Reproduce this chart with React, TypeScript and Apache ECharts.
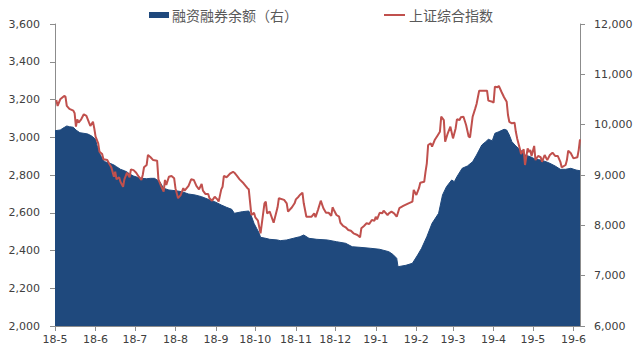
import React, { useEffect, useRef } from "react";
import * as echarts from "echarts";

// Days counted from 2018-05-01
const START_Y = 2018;
const START_M = 4; // May (0-based)
const END_DAY = 401;

const SERIES_MARGIN = "融资融券余额（右）";
const SERIES_INDEX = "上证综合指数";

// 上证综合指数 (left axis)
const indexDays = [
  1, 2, 4, 7, 8, 9, 11, 14, 15, 16, 17, 18, 20, 22, 24, 26, 27, 29, 30, 31,
  33, 34, 36, 37, 40, 41, 43, 45, 46, 47, 49, 50, 52, 53, 55, 57, 58, 60, 62, 64,
  66, 67, 68, 70, 71, 73, 75, 78, 79, 81, 83, 84, 85, 87, 89, 91, 92, 94, 96, 98,
  99, 102, 104, 106, 108, 110, 112, 113, 115, 117, 118, 120, 122, 124, 125, 127, 128, 129, 131, 132,
  134, 136, 137, 139, 141, 144, 147, 148, 150, 152, 153, 155, 157, 160, 161, 162, 164, 167, 170, 171,
  175, 177, 178, 181, 183, 184, 186, 187, 189, 190, 192, 196, 198, 199, 201, 203, 205, 207, 209, 211,
  212, 213, 215, 217, 218, 220, 222, 224, 226, 228, 231, 233, 234, 236, 238, 240, 242, 244, 245, 246,
  248, 250, 251, 254, 255, 257, 259, 261, 263, 266, 270, 273, 274, 276, 278, 279, 282, 283, 284, 285,
  287, 288, 290, 292, 294, 295, 297, 298, 300, 302, 304, 306, 307, 309, 310, 312, 314, 316, 317, 319,
  321, 322, 324, 327, 330, 331, 334, 335, 336, 338, 339, 341, 343, 345, 346, 347, 349, 351, 352, 353,
  355, 356, 358, 359, 361, 362, 363, 364, 366, 367, 369, 371, 372, 374, 376, 378, 380, 382, 384, 386,
  387, 390, 391, 392, 394, 396, 399, 400, 401,
];
const indexValues = [
  3197, 3166, 3201, 3219, 3215, 3166, 3150, 3141, 3127, 3056, 3095, 3077, 3095, 3122, 3113, 3077, 3060, 3082, 3047, 3003,
  2968, 2923, 2911, 2883, 2879, 2865, 2841, 2791, 2817, 2777, 2788, 2764, 2738, 2777, 2812, 2788, 2830, 2826, 2812, 2791,
  2774, 2800, 2841, 2853, 2906, 2894, 2879, 2876, 2777, 2742, 2712, 2774, 2747, 2791, 2795, 2783, 2730, 2677, 2694, 2730,
  2717, 2742, 2777, 2774, 2742, 2724, 2752, 2717, 2699, 2699, 2677, 2664, 2685, 2671, 2659, 2724, 2738, 2795, 2788, 2795,
  2809, 2817, 2812, 2795, 2777, 2756, 2730, 2724, 2588, 2600, 2576, 2558, 2491, 2650, 2659, 2597, 2606, 2547, 2629, 2677,
  2668, 2650, 2606, 2629, 2650, 2671, 2685, 2694, 2706, 2650, 2579, 2579, 2597, 2576, 2618, 2664, 2624, 2600, 2600, 2583,
  2629, 2615, 2588, 2579, 2547, 2530, 2523, 2509, 2505, 2491, 2482, 2470, 2518, 2530, 2544, 2540, 2562, 2558, 2579, 2565,
  2600, 2597, 2611, 2588, 2597, 2606, 2597, 2579, 2624, 2636, 2650, 2659, 2721, 2694, 2730, 2759, 2764, 2817, 2862, 2959,
  2968, 2950, 2985, 3007, 3029, 3109, 3091, 2976, 3021, 3056, 2994, 3047, 3095, 3091, 3106, 3109, 3065, 3003, 3000, 3109,
  3153, 3176, 3247, 3247, 3247, 3194, 3188, 3183, 3268, 3265, 3272, 3241, 3212, 3188, 3118, 3082, 3074, 3077, 3029, 2994,
  2941, 2911, 2936, 2853, 2941, 2923, 2932, 2901, 2954, 2879, 2901, 2894, 2870, 2906, 2879, 2906, 2918, 2901, 2901, 2870,
  2841, 2853, 2879, 2929, 2915, 2888, 2894, 2932, 2989,
];

// 融资融券余额 (right axis)
const marginDays = [
  0, 4, 6, 9, 11, 14, 16, 19, 22, 25, 28, 31, 32, 34, 36, 38, 42, 45, 47, 50,
  53, 55, 57, 60, 63, 66, 70, 73, 76, 80, 83, 87, 92, 97, 102, 107, 112, 117, 122, 127,
  131, 135, 137, 143, 148, 150, 152, 154, 156, 157, 161, 164, 170, 172, 177, 182, 187, 190, 194, 200,
  208, 215, 222, 227, 233, 241, 248, 255, 258, 261, 262, 268, 273, 277, 280, 284, 288, 293, 296, 299,
  303, 305, 307, 311, 315, 319, 322, 326, 329, 331, 334, 336, 339, 343, 345, 347, 349, 352, 354, 357,
  359, 363, 367, 371, 375, 378, 382, 386, 390, 394, 398, 401,
];
const marginValues = [
  9880, 9894, 9928, 9974, 9960, 9948, 9894, 9840, 9828, 9815, 9775, 9709, 9596, 9431, 9332, 9264, 9232, 9199, 9165, 9113,
  9085, 9060, 9020, 8980, 8954, 8934, 8926, 8934, 8934, 8867, 8736, 8702, 8688, 8668, 8622, 8603, 8569, 8517, 8469, 8404,
  8358, 8318, 8239, 8271, 8285, 8185, 8040, 7941, 7842, 7762, 7742, 7722, 7709, 7695, 7709, 7742, 7774, 7808, 7742, 7722,
  7709, 7675, 7643, 7575, 7563, 7544, 7524, 7476, 7424, 7345, 7178, 7206, 7246, 7410, 7544, 7774, 8040, 8239, 8603, 8767,
  8901, 8867, 8966, 9133, 9179, 9264, 9397, 9596, 9662, 9709, 9681, 9828, 9860, 9908, 9894, 9795, 9662, 9576, 9530, 9463,
  9397, 9364, 9312, 9298, 9264, 9232, 9179, 9113, 9113, 9133, 9099, 9085,
];

const leftTicks = { min: 2000, max: 3600, interval: 200 };
const rightTicks = { min: 6000, max: 12000, interval: 1000 };

const dayToTime = (d: number) => new Date(START_Y, START_M, 1 + d).getTime();

const AXIS_COLOR = "#8c8c8c";
const LABEL_COLOR = "#404040";
const NUM_FONT = "'DejaVu Sans', Verdana, sans-serif";
const CJK_FONT = "'Noto Sans CJK SC', sans-serif";

const fmtThousands = (v: number) => v.toLocaleString("en-US");

export default function App() {
  const ref = useRef<HTMLDivElement>(null);

  useEffect(() => {
    if (!ref.current) return;
    const chart = echarts.init(ref.current, undefined, { renderer: "svg" });

    const indexData = indexDays.map((d, i) => [dayToTime(d), indexValues[i]]);
    const marginData = marginDays.map((d, i) => [dayToTime(d), marginValues[i]]);

    chart.setOption({
      animation: false,
      backgroundColor: "#ffffff",
      grid: { left: 55, right: 56, top: 24, bottom: 23, containLabel: false },
      legend: [
        {
          data: [{ name: SERIES_MARGIN, icon: "rect" }],
          left: 149,
          top: 8,
          padding: 0,
          itemWidth: 20,
          itemHeight: 6,
          textStyle: { fontFamily: CJK_FONT, fontSize: 14, color: "#595959", padding: [0, 0, 0, -2] },
          selectedMode: false,
        },
        {
          data: [{ name: SERIES_INDEX, icon: "rect" }],
          left: 384,
          top: 8,
          padding: 0,
          itemWidth: 21,
          itemHeight: 2,
          textStyle: { fontFamily: CJK_FONT, fontSize: 14, color: "#595959", padding: [0, 0, 0, -1] },
          selectedMode: false,
        },
      ],
      xAxis: {
        type: "time",
        min: dayToTime(0),
        max: dayToTime(END_DAY),
        splitNumber: 14,
        axisLine: { show: true, lineStyle: { color: AXIS_COLOR, width: 1 } },
        axisTick: { show: true, length: 5, lineStyle: { color: AXIS_COLOR } },
        splitLine: { show: false },
        axisLabel: {
          margin: 8,
          fontFamily: NUM_FONT,
          fontSize: 11,
          color: LABEL_COLOR,
          hideOverlap: false,
          formatter: (val: number) => {
            const dt = new Date(val);
            if (dt.getDate() !== 1) return "";
            return `${String(dt.getFullYear()).slice(2)}-${dt.getMonth() + 1}`;
          },
        },
      },
      yAxis: [
        {
          type: "value",
          position: "left",
          ...leftTicks,
          axisLine: { show: true, lineStyle: { color: AXIS_COLOR, width: 1 } },
          axisTick: { show: true, length: 5, lineStyle: { color: AXIS_COLOR } },
          splitLine: { show: false },
          axisLabel: {
            margin: 15,
            fontFamily: NUM_FONT,
            fontSize: 11,
            color: LABEL_COLOR,
            formatter: fmtThousands,
          },
        },
        {
          type: "value",
          position: "right",
          ...rightTicks,
          axisLine: { show: true, lineStyle: { color: AXIS_COLOR, width: 1 } },
          axisTick: { show: true, length: 5, lineStyle: { color: AXIS_COLOR } },
          splitLine: { show: false },
          axisLabel: {
            margin: 14,
            fontFamily: NUM_FONT,
            fontSize: 11,
            color: LABEL_COLOR,
            formatter: fmtThousands,
          },
        },
      ],
      series: [
        {
          name: SERIES_MARGIN,
          type: "line",
          yAxisIndex: 1,
          data: marginData,
          symbol: "none",
          color: "#1F497D",
          lineStyle: { width: 1, color: "#1F497D" },
          areaStyle: { color: "#1F497D", opacity: 1, origin: "start" },
          z: 2,
        },
        {
          name: SERIES_INDEX,
          type: "line",
          yAxisIndex: 0,
          data: indexData,
          symbol: "none",
          color: "#C0504D",
          lineStyle: { width: 2, color: "#C0504D" },
          z: 3,
        },
      ],
    });

    return () => chart.dispose();
  }, []);

  return (
    <div
      ref={ref}
      style={{ position: "fixed", left: 0, top: 0, width: 636, height: 349, background: "#fff" }}
    />
  );
}
